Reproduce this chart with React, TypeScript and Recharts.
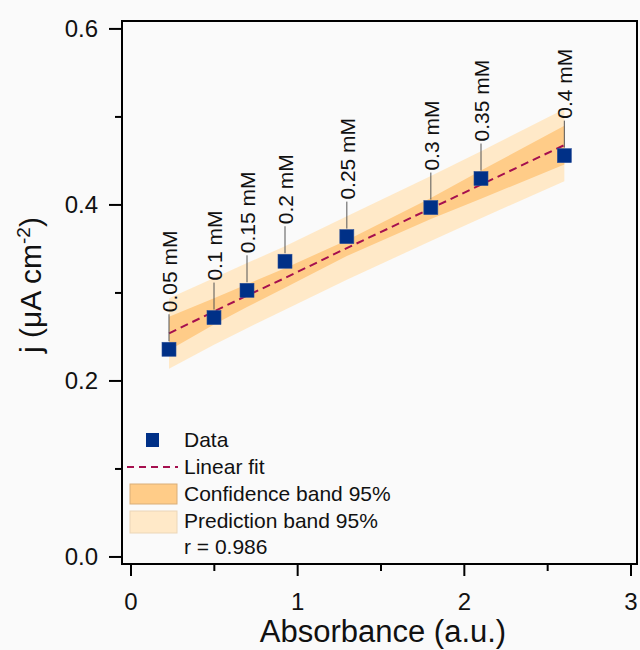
import React from 'react';
import { ComposedChart, Area, Line, Scatter, XAxis, YAxis, ReferenceArea } from 'recharts';

// absorbance (x) and current density (y) of each standard
const absorbance = [0.228, 0.498, 0.696, 0.924, 1.295, 1.799, 2.1, 2.6];
const current = [0.236, 0.272, 0.303, 0.336, 0.364, 0.397, 0.43, 0.456];
const concLabels = ['0.05 mM', '0.1 mM', '0.15 mM', '0.2 mM', '0.25 mM', '0.3 mM', '0.35 mM', '0.4 mM'];

// linear fit and 95% bands read at the same x positions
const fitLine = [0.254, 0.279, 0.297, 0.317, 0.351, 0.396, 0.423, 0.468];
const confLow = [0.235, 0.264, 0.284, 0.306, 0.342, 0.384, 0.407, 0.446];
const confHigh = [0.273, 0.294, 0.31, 0.328, 0.36, 0.408, 0.439, 0.49];
const predLow = [0.214, 0.241, 0.26, 0.281, 0.315, 0.359, 0.385, 0.427];
const predHigh = [0.294, 0.317, 0.334, 0.353, 0.387, 0.433, 0.461, 0.509];

const xTicks = [0, 0.5, 1, 1.5, 2, 2.5, 3];
const yTicks = [0, 0.1, 0.2, 0.3, 0.4, 0.5, 0.6];
const xDomain = [-0.054, 3.036];
const yDomain = [-0.008, 0.609];

const data = absorbance.map((x, i) => ({
  x,
  j: current[i],
  label: concLabels[i],
  fit: fitLine[i],
  conf: [confLow[i], confHigh[i]],
  pred: [predLow[i], predHigh[i]],
}));

const FONT = 'Arial, "Liberation Sans", sans-serif';
const BLUE = '#003087';
const FIT = '#A50F4E';
const CONF = '#FFCC88';
const PRED = '#FFE9C8';

const XTick = (props: any) => {
  const { x, y, payload } = props;
  const major = Number.isInteger(payload.value);
  return (
    <g>
      <line x1={x} y1={y} x2={x} y2={y + (major ? 12 : 7)} stroke="#000" strokeWidth={2} />
      {major && (
        <text x={x} y={y + 46} textAnchor="middle" fontSize={24} fontFamily={FONT} fill="#111">
          {payload.value}
        </text>
      )}
    </g>
  );
};

const YTick = (props: any) => {
  const { x, y, payload } = props;
  const major = Math.round(payload.value * 10) % 2 === 0;
  return (
    <g>
      <line x1={x} y1={y} x2={x - (major ? 13 : 7)} y2={y} stroke="#000" strokeWidth={2} />
      {major && (
        <text x={x - 24} y={y + 8} textAnchor="end" fontSize={24} fontFamily={FONT} fill="#111">
          {payload.value.toFixed(1)}
        </text>
      )}
    </g>
  );
};

const PointShape = (props: any) => {
  const { cx, cy, payload } = props;
  return (
    <g>
      <line x1={cx} y1={cy - 35} x2={cx} y2={cy - 8} stroke="#555" strokeWidth={1} />
      <text
        x={cx + 8}
        y={cy - 37}
        transform={`rotate(-90 ${cx + 8} ${cy - 37})`}
        fontSize={21}
        fontFamily={FONT}
        fill="#111"
      >
        {payload.label}
      </text>
      <rect x={cx - 7} y={cy - 7} width={14} height={14} fill={BLUE} stroke="#2b4f98" strokeWidth={0.6} />
    </g>
  );
};

const LegendBox = () => (
  <svg
    width={640}
    height={650}
    style={{ position: 'absolute', left: 0, top: 0, pointerEvents: 'none' }}
    fontFamily={FONT}
  >
    <rect x={146} y={433} width={13} height={14} fill={BLUE} />
    <line x1={127} y1={467} x2={178} y2={467} stroke={FIT} strokeWidth={2} strokeDasharray="7 5" />
    <rect x={130} y={484} width={47} height={20} fill={CONF} stroke="#D9AE78" strokeWidth={1} />
    <rect x={130} y={511} width={47} height={22} fill={PRED} stroke="#EBD6B8" strokeWidth={1} />
    <g fontSize={21} fill="#111">
      <text x={184} y={447}>Data</text>
      <text x={184} y={474}>Linear fit</text>
      <text x={184} y={501}>Confidence band 95%</text>
      <text x={184} y={528}>Prediction band 95%</text>
      <text x={184} y={554}>r = 0.986</text>
    </g>
    <text x={383} y={642} textAnchor="middle" fontSize={31} fill="#111">
      Absorbance (a.u.)
    </text>
    <text
      x={41}
      y={285}
      transform="rotate(-90 41 285)"
      textAnchor="middle"
      fontSize={30}
      fill="#111"
    >
      j (μA cm
      <tspan fontSize={19} dy={-11}>-2</tspan>
      <tspan dy={11}>)</tspan>
    </text>
  </svg>
);

export default function App() {
  return (
    <div style={{ position: 'absolute', left: 0, top: 0, width: 640, height: 650, background: '#fafafa' }}>
      <ComposedChart
        width={640}
        height={650}
        data={data}
        margin={{ top: 21, right: 3, bottom: 26, left: 0 }}
      >
        <XAxis
          type="number"
          dataKey="x"
          domain={xDomain}
          ticks={xTicks}
          interval={0}
          allowDataOverflow
          height={60}
          tickSize={0}
          tickMargin={0}
          tickLine={false}
          axisLine={{ stroke: '#000', strokeWidth: 2 }}
          tick={<XTick />}
        />
        <YAxis
          type="number"
          domain={yDomain}
          ticks={yTicks}
          interval={0}
          allowDataOverflow
          width={122}
          tickSize={0}
          tickMargin={0}
          tickLine={false}
          axisLine={{ stroke: '#000', strokeWidth: 2 }}
          tick={<YTick />}
        />
        <Area
          type="linear"
          dataKey="pred"
          stroke="none"
          fill={PRED}
          fillOpacity={1}
          isAnimationActive={false}
        />
        <Area
          type="linear"
          dataKey="conf"
          stroke="none"
          fill={CONF}
          fillOpacity={1}
          isAnimationActive={false}
        />
        <Line
          type="linear"
          dataKey="fit"
          stroke={FIT}
          strokeWidth={2}
          strokeDasharray="8 5"
          dot={false}
          isAnimationActive={false}
        />
        <Scatter dataKey="j" shape={<PointShape />} isAnimationActive={false} />
        <ReferenceArea
          x1={xDomain[0]}
          x2={xDomain[1]}
          y1={yDomain[0]}
          y2={yDomain[1]}
          fill="none"
          fillOpacity={0}
          stroke="#000"
          strokeWidth={2}
          ifOverflow="visible"
        />
      </ComposedChart>
      <LegendBox />
    </div>
  );
}
